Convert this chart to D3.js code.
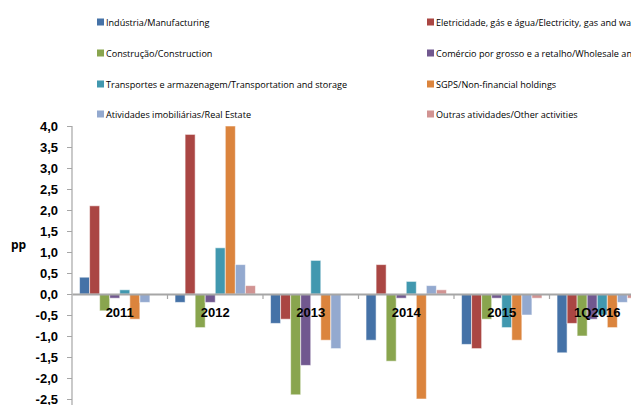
<!DOCTYPE html>
<html>
<head>
<meta charset="utf-8">
<script src="https://cdn.jsdelivr.net/npm/d3@7"></script>
<style>
  html, body { margin: 0; padding: 0; background: #fff; }
  svg { display: block; overflow: hidden; }
  text { font-family: "Open Sans", "Liberation Sans", sans-serif; }
</style>
</head>
<body>
<svg id="chart" width="631" height="405"></svg>
<script>
// Contributions by sector, percentage points
const categories = ["2011", "2012", "2013", "2014", "2015", "1Q2016"];

const seriesNames = [
  "Indústria/Manufacturing",
  "Eletricidade, gás e água/Electricity, gas and water",
  "Construção/Construction",
  "Comércio por grosso e a retalho/Wholesale and retail trade",
  "Transportes e armazenagem/Transportation and storage",
  "SGPS/Non-financial holdings",
  "Atividades imobiliárias/Real Estate",
  "Outras atividades/Other activities"
];

const seriesColors = ["#4572A7", "#AA4643", "#89A54E", "#71588F", "#4198AF", "#DB843D", "#93A9CF", "#D19392"];

// One array per sector, one value per period
const industria     = [ 0.4, -0.2, -0.7, -1.1, -1.2, -1.4];
const eletricidade  = [ 2.1,  3.8, -0.6,  0.7, -1.3, -0.7];
const construcao    = [-0.4, -0.8, -2.4, -1.6, -0.6, -1.0];
const comercio      = [-0.1, -0.2, -1.7, -0.1, -0.1, -0.6];
const transportes   = [ 0.1,  1.1,  0.8,  0.3, -0.8, -0.5];
const sgps          = [-0.6,  4.0, -1.1, -2.5, -1.1, -0.8];
const imobiliarias  = [-0.2,  0.7, -1.3,  0.2, -0.5, -0.2];
const outras        = [ 0.0,  0.2,  0.0,  0.1, -0.1, -0.1];

const seriesValues = [industria, eletricidade, construcao, comercio, transportes, sgps, imobiliarias, outras];

const yTicks = [-2.5, -2.0, -1.5, -1.0, -0.5, 0.0, 0.5, 1.0, 1.5, 2.0, 2.5, 3.0, 3.5, 4.0];

const svg = d3.select("#chart");

const plot = { left: 72, right: 645, top: 126, bottom: 399 };

const x0 = d3.scaleBand().domain(categories).range([plot.left, plot.right]).paddingInner(0).paddingOuter(0);
const x1 = d3.scaleBand().domain(d3.range(seriesNames.length)).range([0, x0.bandwidth()]).paddingInner(0).paddingOuter(0.75);
const y = d3.scaleLinear().domain([-2.5, 4.0]).range([plot.bottom, plot.top]);

const fmt = v => d3.format(".1f")(v).replace(".", ",").replace("−", "-");

// Y axis
const yAxis = svg.append("g")
  .attr("transform", `translate(${plot.left},0)`)
  .call(d3.axisLeft(y).tickValues(yTicks).tickFormat(fmt).tickSize(5).tickPadding(9).tickSizeOuter(0));
yAxis.select(".domain").attr("stroke", "#a6a6a6").attr("stroke-width", 1.2).attr("d", `M0,${plot.top}V${plot.bottom + 10}`);
yAxis.selectAll(".tick line").attr("stroke", "#a6a6a6");
yAxis.selectAll(".tick text")
  .attr("fill", "#000").style("font-size", "13px").style("font-weight", "bold")
  .style("font-family", "'Liberation Sans', Arial, sans-serif");

// Unit label
svg.append("text")
  .attr("x", 11).attr("y", 249)
  .style("font-size", "12px").style("font-weight", "bold")
  .text("pp");

// Bars
const groups = svg.append("g").selectAll("g")
  .data(categories)
  .join("g")
  .attr("transform", d => `translate(${x0(d)},0)`);

groups.selectAll("rect")
  .data((d, i) => seriesValues.map((vals, s) => ({ s, v: vals[i] })))
  .join("rect")
  .attr("x", d => x1(d.s))
  .attr("width", x1.bandwidth())
  .attr("y", d => y(Math.max(0, d.v)))
  .attr("height", d => Math.abs(y(d.v) - y(0)))
  .attr("fill", d => seriesColors[d.s])
  .attr("stroke", "#ffffff")
  .attr("stroke-opacity", 0.55)
  .attr("stroke-width", 1);

// Zero line with category ticks
const xAxis = svg.append("g")
  .attr("transform", `translate(0,${y(0)})`)
  .call(d3.axisBottom(x0).tickSize(0).tickFormat(""));
xAxis.select(".domain").attr("stroke", "#a6a6a6").attr("stroke-width", 2);
svg.append("g").selectAll("line")
  .data(categories.slice(1))
  .join("line")
  .attr("x1", d => x0(d)).attr("x2", d => x0(d))
  .attr("y1", y(0)).attr("y2", y(0) + 5)
  .attr("stroke", "#a6a6a6").attr("stroke-width", 1.2);

// Category labels on the zero line
svg.append("g").selectAll("text")
  .data(categories)
  .join("text")
  .attr("x", d => x0(d) + x0.bandwidth() / 2)
  .attr("y", y(0) + 23)
  .attr("text-anchor", "middle")
  .style("font-size", "13px").style("font-weight", "bold")
  .style("font-family", "'Liberation Sans', Arial, sans-serif")
  .text(d => d);

// Legend, two columns of four
const legendCols = [97, 427];
const legendRows = [22, 53, 84, 114];
const legend = svg.append("g").selectAll("g")
  .data(seriesNames)
  .join("g")
  .attr("transform", (d, i) => `translate(${legendCols[i % 2]},${legendRows[Math.floor(i / 2)]})`);
legend.append("rect")
  .attr("x", 0).attr("y", -3.5).attr("width", 7).attr("height", 7)
  .attr("fill", (d, i) => seriesColors[i]);
legend.append("text")
  .attr("x", 9).attr("y", 3.5)
  .style("font-size", "9.1px")
  .text(d => d);
</script>
</body>
</html>
